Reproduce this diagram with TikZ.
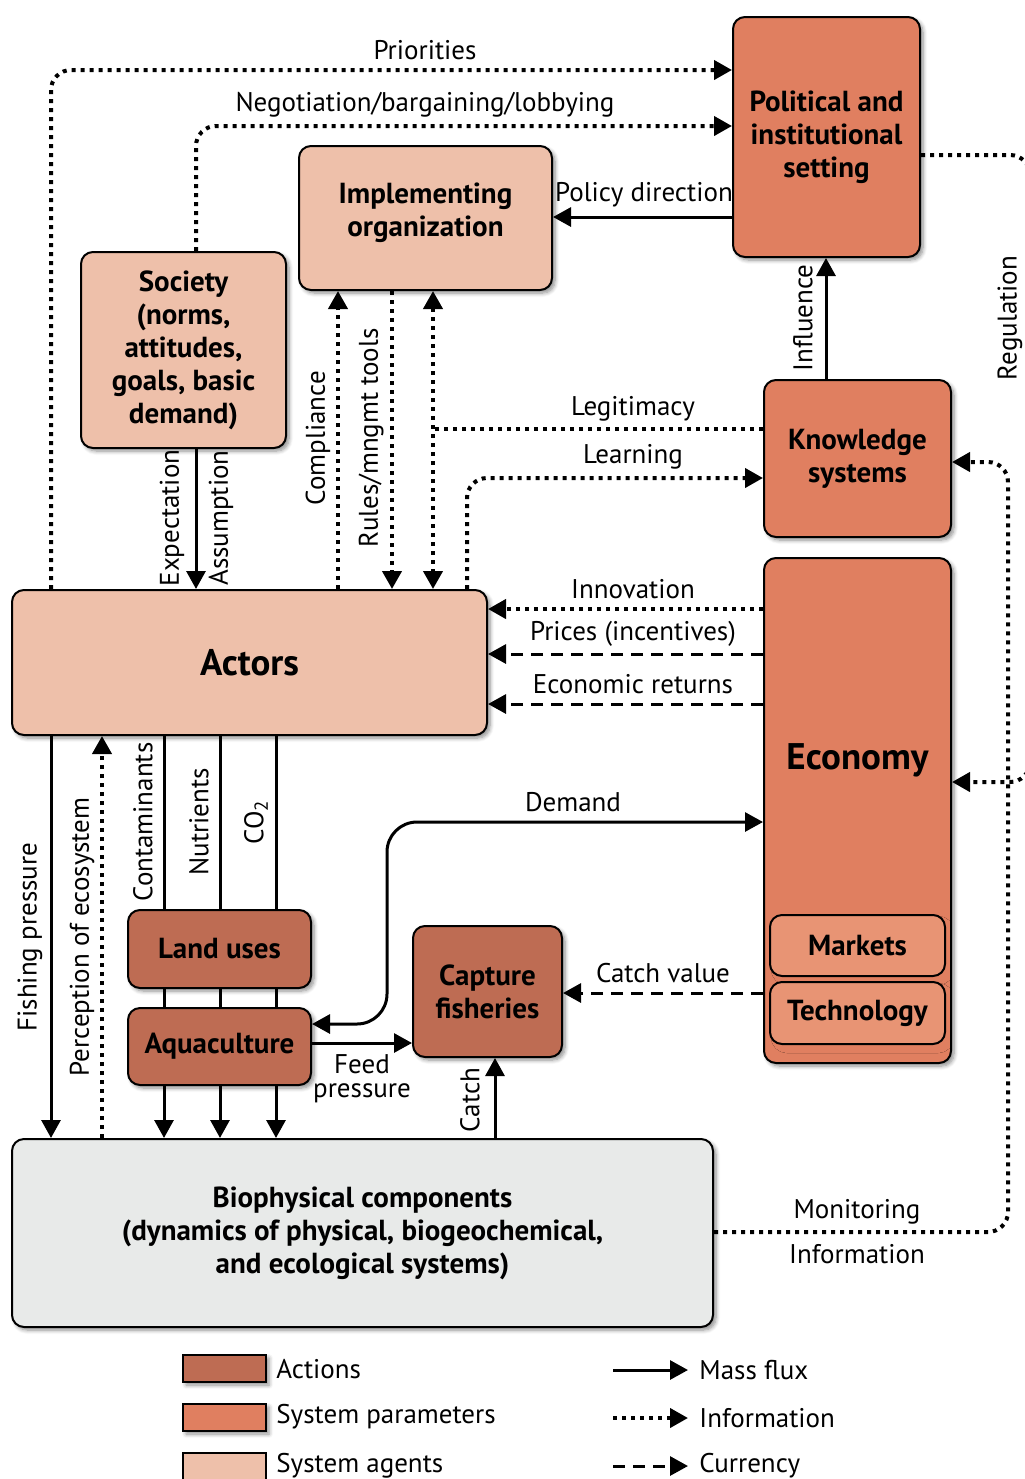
\documentclass[tikz,border=0pt]{standalone}
\usepackage{fontspec}
\setmainfont{PT Sans}
\usepackage{tikz}
\usetikzlibrary{arrows.meta,shadows.blur,calc}
\definecolor{ActionBrown}{RGB}{190,108,83}
\definecolor{ParamOrange}{RGB}{224,127,96}
\definecolor{AgentPeach}{RGB}{238,192,170}
\definecolor{MarketSalmon}{RGB}{232,148,116}
\definecolor{BioGray}{RGB}{232,234,233}

\begin{document}
\begin{tikzpicture}[
	x=0.5pt, y=-0.5pt,
	box/.style={draw=black, line width=1pt, rounded corners=6pt, align=center,
		font=\bfseries\fontsize{14.5}{16.5}\selectfont,
		blur shadow={shadow blur steps=6, shadow xshift=1.5pt, shadow yshift=-1.5pt, shadow opacity=45}},
	actionbox/.style={box, fill=ActionBrown},
	parambox/.style={box, fill=ParamOrange},
	agentbox/.style={box, fill=AgentPeach},
	lbl/.style={font=\fontsize{13.5}{15}\selectfont, inner sep=1pt},
	tip/.style={-{Triangle[length=9pt,width=9.5pt]}},
	mass/.style={line width=1.5pt, tip},
	massline/.style={line width=1.5pt},
	info/.style={line width=2pt, dash pattern=on 2pt off 2.5pt, tip},
	infoline/.style={line width=2pt, dash pattern=on 2pt off 2.5pt},
	currency/.style={line width=1.5pt, dash pattern=on 6pt off 4pt, tip}
	]
	
	\useasboundingbox (0,0) rectangle (1024,1479);
	
	% boxes
	\node[parambox, minimum width=93.5pt, minimum height=120pt] (Political) at (826.5,137) {Political and\\institutional\\setting};
	\node[agentbox, minimum width=126.5pt, minimum height=72pt, text depth=8pt] (Implementing) at (425.5,218) {Implementing\\organization};
	\node[agentbox, minimum width=102.5pt, minimum height=98pt] (Society) at (183.5,350) {Society\\(norms,\\attitudes,\\goals, basic\\demand)};
	\node[parambox, minimum width=93.5pt, minimum height=78.5pt] (Knowledge) at (857.5,458.5) {Knowledge\\systems};
	\node[parambox, minimum width=93.5pt, minimum height=252.5pt] (Economy) at (857.5,810.5) {};
	\node[font=\bfseries\fontsize{18.5}{21}\selectfont] (EconomyText) at ([yshift=25pt]Economy.center) {Economy};
	\node[box, fill=MarketSalmon, minimum width=87.5pt, minimum height=30.5pt, blur shadow={shadow opacity=0}] (Markets) at (857.5,945.5) {Markets};
	\node[box, fill=MarketSalmon, minimum width=87.5pt, minimum height=31pt, blur shadow={shadow opacity=0}] (Technology) at (857.5,1013) {Technology};
	\node[agentbox, minimum width=237.5pt, minimum height=72.5pt, font=\bfseries\fontsize{18.5}{21}\selectfont] (Actors) at (249.5,662.5) {Actors};
	\node[actionbox, minimum width=91.5pt, minimum height=39pt] (LandUses) at (219.5,949) {Land uses};
	\node[actionbox, minimum width=91.5pt, minimum height=38.5pt] (Aquaculture) at (219.5,1046.5) {Aquaculture};
	\node[actionbox, minimum width=74.5pt, minimum height=65.5pt] (Capture) at (487.5,991.5) {Capture\\fisheries};
	\node[box, fill=BioGray, minimum width=350.5pt, minimum height=94pt] (Biophysical) at (362.5,1233) {Biophysical components\\(dynamics of physical, biogeochemical,\\and ecological systems)};
	
	% information links
	\draw[info, rounded corners=10pt] (Actors.north -| 51,0) |- (Political.west |- 0,70);
	\draw[info, rounded corners=10pt] (Society.north -| 196,0) |- (Political.west |- 0,126);
	\draw[infoline, rounded corners=10pt] (Political.east |- 0,155) -| (1030,782);
	\draw[info, rounded corners=10pt] (1030,700) |- (Economy.east |- 0,782);
	\draw[info, rounded corners=10pt] (Biophysical.east |- 0,1232) -| (1008,462) -- (Knowledge.east |- 0,462);
	\coordinate (LegJoin) at (433,429);
	\draw[infoline] (Knowledge.west |- 0,429) -- (LegJoin);
	\draw[info, rounded corners=10pt] (Actors.north -| 467,0) |- (Knowledge.west |- 0,478);
	\draw[info] (Actors.north -| 338,0) -- (Implementing.south -| 338,0);
	\draw[info] (Implementing.south -| 392,0) -- (Actors.north -| 392,0);
	\draw[info, {Triangle[length=9pt,width=9.5pt]}-{Triangle[length=9pt,width=9.5pt]}] (Implementing.south -| 433,0) -- (Actors.north -| 433,0);
	\draw[info] (Economy.west |- 0,609) -- (Actors.east |- 0,609);
	\draw[info] (Biophysical.north -| 102,0) -- (Actors.south -| 102,0);
	
	% currency links
	\draw[currency] (Economy.west |- 0,654) -- (Actors.east |- 0,654);
	\draw[currency] (Economy.west |- 0,704) -- (Actors.east |- 0,704);
	\draw[currency] (Economy.west |- 0,993) -- (Capture.east |- 0,993);
	
	% mass flux
	\draw[mass] (Political.west |- 0,217) -- (Implementing.east |- 0,217);
	\draw[mass] (Knowledge.north -| 826,0) -- (Political.south -| 826,0);
	\draw[mass] (Society.south -| 196,0) -- (Actors.north -| 196,0);
	\draw[mass] (Actors.south -| 51,0) -- (Biophysical.north -| 51,0);
	\foreach \px in {164,220,276}{
		\draw[massline] (Actors.south -| \px,0) -- (LandUses.north -| \px,0);
		\draw[massline] (LandUses.south -| \px,0) -- (Aquaculture.north -| \px,0);
		\draw[mass] (Aquaculture.south -| \px,0) -- (Biophysical.north -| \px,0);
	}
	\draw[mass, {Triangle[length=9pt,width=9.5pt]}-{Triangle[length=9pt,width=9.5pt]}, rounded corners=15pt] (Aquaculture.east |- 0,1024) -| (387,822) -- (Economy.west |- 0,822);
	\draw[mass] (Aquaculture.east |- 0,1043) -- (Capture.west |- 0,1043);
	\draw[mass] (Biophysical.north -| 495,0) -- (Capture.south -| 495,0);
	
	% labels
	\node[lbl] (LPriorities) at (425,50) {Priorities};
	\node[lbl] (LNegotiation) at (425,105) {Negotiation/bargaining/lobbying};
	\node[lbl] (LPolicy) at (644,195) {Policy direction};
	\node[lbl] (LLegitimacy) at (633,409) {Legitimacy};
	\node[lbl] (LLearning) at (633,457) {Learning};
	\node[lbl] (LInnovation) at (633,589) {Innovation};
	\node[lbl] (LPrices) at (633,634) {Prices (incentives)};
	\node[lbl] (LReturns) at (633,684) {Economic returns};
	\node[lbl] (LDemand) at (573,802) {Demand};
	\node[lbl] (LCatchValue) at (663,973) {Catch value};
	\node[lbl, align=center, font=\fontsize{13.5}{12}\selectfont] (LFeed) at (362,1079) {Feed\\pressure};
	\node[lbl] (LMonitoring) at (857,1212) {Monitoring};
	\node[lbl] (LInformation) at (857,1254) {Information};
	\node[lbl, rotate=90] (LInfluence) at (803,318) {Influence};
	\node[lbl, rotate=90] (LRegulation) at (1010,318) {Regulation};
	\node[lbl, rotate=90] (LCompliance) at (318,438) {Compliance};
	\node[lbl, rotate=90] (LRules) at (371,438) {Rules/mngmt tools};
	\node[lbl, rotate=90] (LExpectation) at (172,518) {Expectation};
	\node[lbl, rotate=90] (LAssumption) at (221,518) {Assumption};
	\node[lbl, rotate=90] (LFishing) at (30,937) {Fishing pressure};
	\node[lbl, rotate=90] (LPerception) at (82,937) {Perception of ecosystem};
	\node[lbl, rotate=90] (LContaminants) at (143,822) {Contaminants};
	\node[lbl, rotate=90] (LNutrients) at (199,822) {Nutrients};
	\node[lbl, rotate=90] (LCO) at (256,822) {CO\textsubscript{2}};
	\node[lbl, rotate=90] (LCatch) at (470,1100) {Catch};
	
	% legend
	\node[draw, line width=0.8pt, fill=ActionBrown, minimum width=41.5pt, minimum height=13.5pt, blur shadow={shadow xshift=1.5pt, shadow yshift=-1.5pt, shadow opacity=45}] (KeyActions) at (224.5,1368.5) {};
	\node[draw, line width=0.8pt, fill=ParamOrange, minimum width=41.5pt, minimum height=13.5pt, blur shadow={shadow xshift=1.5pt, shadow yshift=-1.5pt, shadow opacity=45}] (KeyParams) at (224.5,1417.5) {};
	\node[draw, line width=0.8pt, fill=AgentPeach, minimum width=41.5pt, minimum height=13.5pt] (KeyAgents) at (224.5,1466.5) {};
	\node[lbl, anchor=west] (LActions) at (274,1369) {Actions};
	\node[lbl, anchor=west] (LParams) at (274,1417) {System parameters};
	\node[lbl, anchor=west] (LAgents) at (274,1466) {System agents};
	\node[lbl, anchor=west] (LMass) at (697,1370) {Mass flux};
	\node[lbl, anchor=west] (LInfo) at (697,1418) {Information};
	\node[lbl, anchor=west] (LCurrency) at (697,1466) {Currency};
	\coordinate (KeyMassStart) at (613,1370);
	\coordinate (KeyInfoStart) at (613,1418);
	\coordinate (KeyCurrStart) at (613,1466);
	\draw[mass, shorten >=4.5pt] (KeyMassStart) -- (LMass.west);
	\draw[info, shorten >=4.5pt] (KeyInfoStart) -- (LInfo.west);
	\draw[currency, shorten >=4.5pt] (KeyCurrStart) -- (LCurrency.west);
	
\end{tikzpicture}
\end{document}
